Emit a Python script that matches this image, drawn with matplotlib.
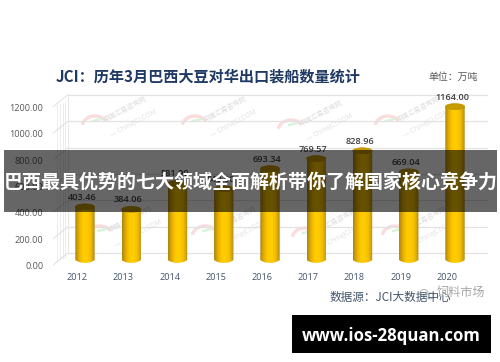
import matplotlib

matplotlib.use("Agg")
import matplotlib.pyplot as plt
import numpy as np
from matplotlib.colors import LinearSegmentedColormap
from matplotlib.patches import Arc, Ellipse, PathPatch, Rectangle
from matplotlib.path import Path

years = ["2012", "2013", "2014", "2015", "2016", "2017", "2018", "2019", "2020"]
values = [403.46, 384.06, 581.90, 540.00, 693.34, 769.57, 828.96, 669.04, 1164.00]
y_ticks = [0, 200, 400, 600, 800, 1000, 1200]

title = "JCI：历年3月巴西大豆对华出口装船数量统计"
unit = "单位：万吨"
source = "数据源：JCI大数据中心"
banner = "巴西最具优势的七大领域全面解析带你了解国家核心竞争力"
site = "www.ios-28quan.com"
wechat = "饲料市场"

W, H = 500, 362
CJK = ["Noto Sans CJK SC", "DejaVu Sans"]
plt.rcParams["font.family"] = CJK

fig = plt.figure(figsize=(W / 100, H / 100), dpi=100)

# overlay in pixel coordinates for everything that is not data
px = fig.add_axes([0, 0, 1, 1], zorder=5)
px.set_xlim(0, W)
px.set_ylim(H, 0)
px.axis("off")
px.patch.set_alpha(0)

# chart axes: one category = 46.25 px, one unit = 0.1318 px
x_step = 46.25
y_scale = 0.1318
left, right, top, bottom = 53, 490, 85, 272
ax = fig.add_axes([left / W, 1 - bottom / H, (right - left) / W, (bottom - top) / H])
ax.set_xlim((left - 85) / x_step, (right - 85) / x_step)
ax.set_ylim((260 - bottom) / y_scale, (260 - top) / y_scale)
ax.axis("off")

dx = lambda p: p / x_step
dy = lambda p: p / y_scale

# back wall and left side of the 3d box
back_x0, back_x1 = dx(68 - 85), dx(487 - 85)
side_x0 = dx(53 - 85)
for v in y_ticks:
    yb = v + dy(7)
    yf = v - dy(5)
    ax.plot([back_x0, back_x1], [yb, yb], color="#e2e2e2", lw=0.9, zorder=1)
    ax.plot([side_x0, back_x0], [yf, yb], color="#e0e0e0", lw=0.7, zorder=1)
    ax.text(dx(43.5 - 85), yf - dy(1.5), f"{v:.2f}", ha="right", va="center",
            fontsize=6.6, family="Open Sans", color="#595959")
ax.plot([back_x0, back_x0], [dy(7), 1200 + dy(7)], color="#e8e8e8", lw=0.7, zorder=1)
for off in (4, 7, 10, 12):
    ax.plot([dx(53 + off - 85)] * 2, [dy(off * 0.4 - 3), 1200 + dy(off * 0.4 - 5)],
            color="#d4d4d4", lw=0.5, alpha=0.6, zorder=1)

# faint watermark, drawn in pixel space under the bars
wm = fig.add_axes([0, 0, 1, 1], zorder=-1)
wm.set_xlim(0, W)
wm.set_ylim(H, 0)
wm.axis("off")
for cx, cy in [(95, 133), (195, 133), (291, 137), (388, 133),
               (100, 243), (205, 243), (305, 245), (395, 243)]:
    wm.add_patch(Arc((cx, cy - 6), 26, 22, theta1=10, theta2=150, angle=180,
                     color="#fbdcdd", lw=2.4))
    wm.plot([cx - 2, cx + 6], [cy - 12, cy - 14], color="#daf3dd", lw=1.8)
    wm.text(cx + 30, cy - 24, "中国汇易咨询网", rotation=28, fontsize=4.9, ha="center",
            va="center", color="#dcdcdc", rotation_mode="anchor")
    wm.text(cx + 38, cy - 10, "— ChinaJCI.COM", rotation=28, fontsize=4.9, ha="center",
            va="center", color="#e0e0e0", family="Open Sans", rotation_mode="anchor")

# cylinders
cyl = LinearSegmentedColormap.from_list(
    "cyl", ["#a88610", "#e8b000", "#ffcc00", "#ffcc00", "#f2bc00", "#ae8a20"])
grad = np.linspace(0, 1, 64)[None, :]
half = dx(9.7)
rise = dy(3)
for i, v in enumerate(values):
    verts = [(i - half, v), (i - half, 0), (i - half / 2, -rise * 1.3), (i + half / 2, -rise * 1.3),
             (i + half, 0), (i + half, v), (i - half, v)]
    codes = [Path.MOVETO, Path.LINETO, Path.CURVE4, Path.CURVE4, Path.CURVE4, Path.LINETO,
             Path.CLOSEPOLY]
    body = PathPatch(Path(verts, codes), facecolor="none", edgecolor="none", zorder=3)
    ax.add_patch(body)
    im = ax.imshow(grad, cmap=cyl, extent=(i - half, i + half, -rise * 2, v), aspect="auto",
                   zorder=3, interpolation="bilinear")
    im.set_clip_path(body)
    ax.add_patch(Ellipse((i, v), 2 * half, 2 * rise, facecolor="#c79a00", edgecolor="#b88f08",
                         lw=0.4, zorder=4))
    ax.text(i - dx(3), v + dy(9.5), f"{v:.2f}", ha="center", va="center", fontsize=6.6,
            family="Open Sans", weight="semibold", color="#404040", zorder=4)
ax.set_xlim((left - 85) / x_step, (right - 85) / x_step)
ax.set_ylim((260 - bottom) / y_scale, (260 - top) / y_scale)

for i, y in enumerate(years):
    px.text(85 + i * x_step - 8, 277.5, y, ha="center", va="center", fontsize=6.6,
            family="Open Sans", color="#44546a")

px.text(56, 76.5, title, ha="left", va="center", fontsize=10.9, weight="bold", color="#1f3864")
px.text(428, 77, unit, ha="left", va="center", fontsize=7.1, color="#595959")
px.text(329, 298, source, ha="left", va="center", fontsize=8.4, color="#44546a")
px.text(437, 292, wechat, ha="left", va="center", fontsize=8.7, color="#a6a6a6")
px.add_patch(Ellipse((424, 293), 8, 7, facecolor="none", edgecolor="#b8b8b8", lw=0.7))
px.add_patch(Ellipse((430, 296), 7, 6, facecolor="white", edgecolor="#b8b8b8", lw=0.7))

px.add_patch(Rectangle((4, 150), 493, 62, facecolor="black", alpha=0.6, edgecolor="none"))
px.text(250.5, 183, banner, ha="center", va="center", fontsize=13.7, weight="bold", color="white")

px.add_patch(Rectangle((292, 315), 199, 38, facecolor="black", edgecolor="none"))
px.text(391.5, 336, site, ha="center", va="center", fontsize=12.1, weight="bold",
        family="Open Sans", color="white")

fig.savefig("out.png", dpi=100)
